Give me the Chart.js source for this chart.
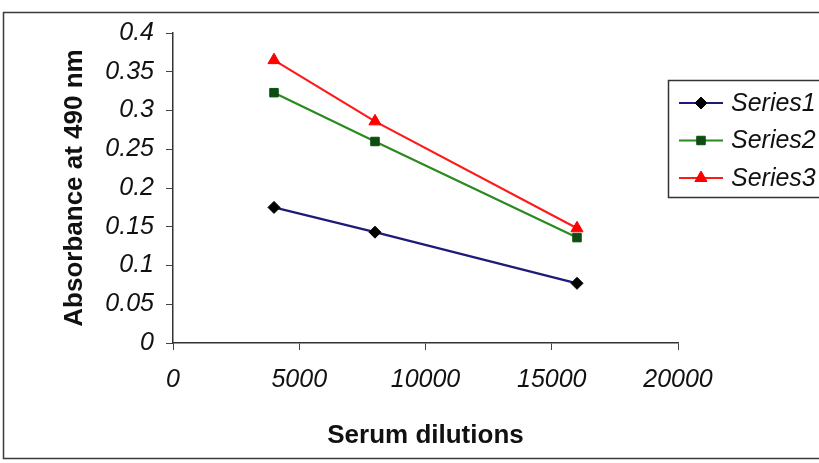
<!DOCTYPE html>
<html>
<head>
<meta charset="utf-8">
<script src="https://cdn.jsdelivr.net/npm/chart.js@4/dist/chart.umd.min.js"></script>
<style>
  html, body { margin: 0; padding: 0; background: #fff; }
</style>
</head>
<body>
<canvas id="chart" width="819" height="463"></canvas>
<script>
// absorbance readings against serum dilution
const dilutions = [4000, 8000, 16000];
const series_1 = [0.175, 0.143, 0.077];
const series_2 = [0.323, 0.260, 0.136];
const series_3 = [0.365, 0.286, 0.148];
const series_names = ['Series1', 'Series2', 'Series3'];

const line_colors = ['#1c1c78', '#2b8a1f', '#ff1a1a'];
const marker_colors = ['#000000', '#0d4d12', '#ff0000'];
const marker_styles = ['rectRot', 'rect', 'triangle'];
const marker_sizes = [6, 6, 7];

const font_family = '"Liberation Sans", Arial, sans-serif';

function to_points(values) {
  return dilutions.map((d, i) => ({ x: d, y: values[i] }));
}

function get_dataset(name, values, i) {
  return {
    label: name,
    data: to_points(values),
    borderColor: line_colors[i],
    borderWidth: 2.2,
    pointStyle: marker_styles[i],
    pointRadius: marker_sizes[i],
    pointBackgroundColor: marker_colors[i],
    pointBorderColor: marker_colors[i],
    pointBorderWidth: 1,
    tension: 0,
    fill: false
  };
}

// outer frame round the whole chart
const outer_frame = {
  id: 'outer_frame',
  beforeDraw(chart) {
    const ctx = chart.ctx;
    ctx.save();
    ctx.fillStyle = '#fff';
    ctx.fillRect(0, 0, chart.width, chart.height);
    ctx.strokeStyle = '#3a3a3a';
    ctx.lineWidth = 1.5;
    ctx.strokeRect(3.5, 12.5, 840, 446);
    ctx.restore();
  }
};

// boxed legend on the right, line + marker + italic name
const legend_box = {
  id: 'legend_box',
  afterDraw(chart) {
    const ctx = chart.ctx;
    ctx.save();
    ctx.strokeStyle = '#333';
    ctx.lineWidth = 1.5;
    ctx.strokeRect(668.5, 80.5, 170, 117);
    chart.data.datasets.forEach((ds, i) => {
      const y = 103 + i * 37.5;
      ctx.strokeStyle = ds.borderColor;
      ctx.lineWidth = 2;
      ctx.beginPath();
      ctx.moveTo(679, y);
      ctx.lineTo(723, y);
      ctx.stroke();
      ctx.fillStyle = ds.pointBackgroundColor;
      ctx.strokeStyle = ds.pointBorderColor;
      ctx.lineWidth = 1;
      Chart.helpers.drawPoint(ctx, { pointStyle: ds.pointStyle, radius: ds.pointRadius, borderWidth: 1 }, 701, y);
      ctx.fillStyle = '#111';
      ctx.font = 'italic 25px ' + font_family;
      ctx.textBaseline = 'middle';
      ctx.fillText(ds.label, 731, y + 1);
    });
    ctx.restore();
  }
};

const canvas = document.getElementById('chart');

new Chart(canvas, {
  type: 'line',
  data: {
    datasets: [
      get_dataset(series_names[0], series_1, 0),
      get_dataset(series_names[1], series_2, 1),
      get_dataset(series_names[2], series_3, 2)
    ]
  },
  options: {
    responsive: false,
    animation: false,
    layout: { padding: { top: 33, right: 141, bottom: 10, left: 0 } },
    plugins: {
      legend: { display: false },
      tooltip: { enabled: false }
    },
    scales: {
      x: {
        type: 'linear',
        min: 0,
        max: 20000,
        ticks: {
          stepSize: 5000,
          color: '#111',
          padding: 15,
          maxRotation: 0,
          font: { family: font_family, size: 25, style: 'italic' },
          callback: (v) => String(v)
        },
        grid: { display: true, drawOnChartArea: false, tickLength: 7, color: '#444', lineWidth: 1 },
        border: { color: '#333', width: 1.5 },
        title: {
          display: true,
          text: 'Serum dilutions',
          color: '#111',
          font: { family: font_family, size: 26, weight: 'bold' },
          padding: { top: 4, bottom: 2 }
        },
        afterFit(scale) { scale.height = 110; }
      },
      y: {
        min: 0,
        max: 0.4,
        ticks: {
          stepSize: 0.05,
          color: '#111',
          padding: 12,
          font: { family: font_family, size: 25, style: 'italic' },
          callback: (v) => String(Math.round(v * 100) / 100)
        },
        grid: { display: true, drawOnChartArea: false, tickLength: 7, color: '#444', lineWidth: 1 },
        border: { color: '#333', width: 1.5 },
        title: {
          display: true,
          text: 'Absorbance at 490 nm',
          color: '#111',
          font: { family: font_family, size: 26, weight: 'bold' },
          padding: { top: 59, bottom: 0 }
        },
        afterFit(scale) { scale.width = 173; }
      }
    }
  },
  plugins: [outer_frame, legend_box]
});
</script>
</body>
</html>
